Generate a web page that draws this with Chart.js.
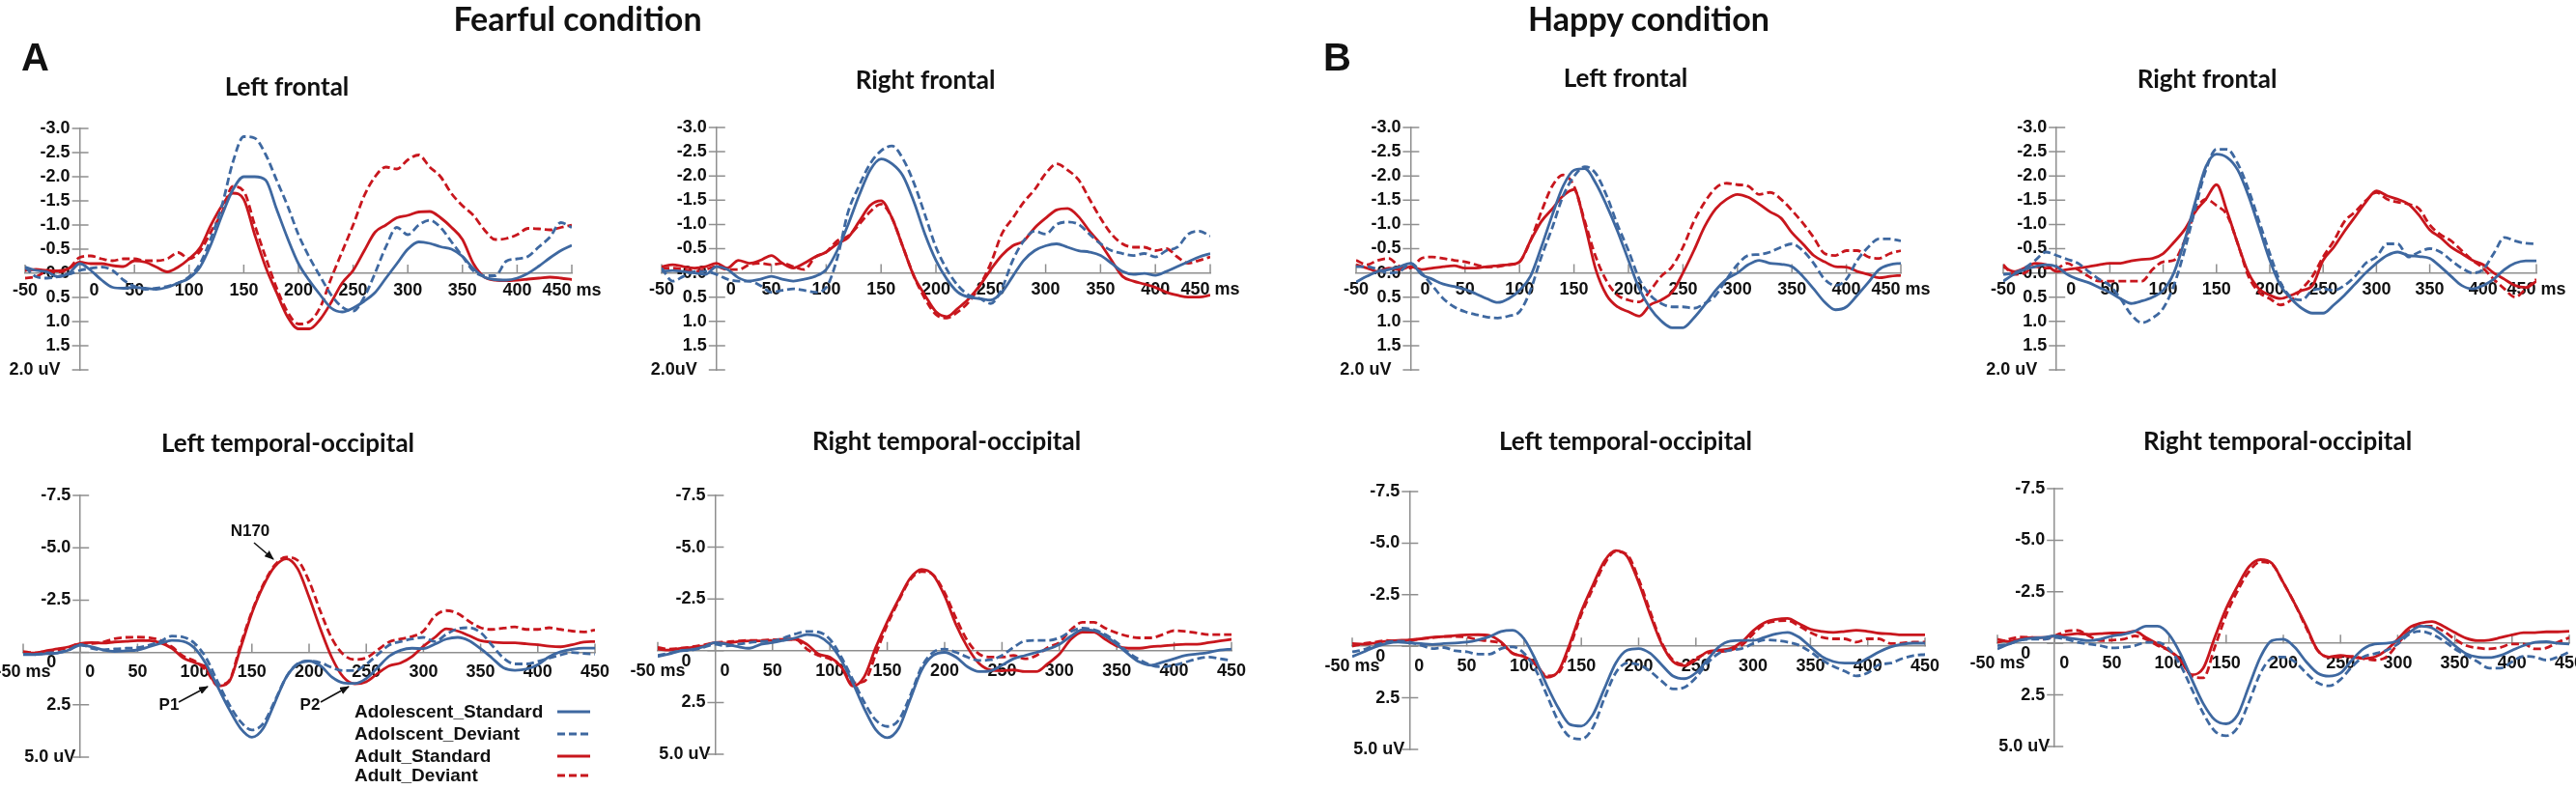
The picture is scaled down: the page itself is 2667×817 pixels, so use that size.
<!DOCTYPE html>
<html>
<head>
<meta charset="utf-8">
<script src="https://cdn.jsdelivr.net/npm/chart.js@4.4.0/dist/chart.umd.min.js"></script>
<style>
  html, body { margin: 0; padding: 0; background: #fff; }
  body { position: relative; width: 2667px; height: 817px; overflow: hidden; }
  canvas { position: absolute; }
  #overlay { position: absolute; left: 0; top: 0; pointer-events: none; }
  .ttl { font-family: Lato, "Open Sans", sans-serif; font-weight: 700; fill: #111; }
  .lbl { font-family: "Liberation Sans", Arial, sans-serif; font-weight: 700; fill: #111; }
</style>
</head>
<body>
<svg id="overlay" width="2667" height="817">
  <defs>
    <marker id="ah" markerWidth="10" markerHeight="8" refX="9" refY="4" orient="auto" markerUnits="userSpaceOnUse">
      <path d="M0,0 L10,4 L0,8 z" fill="#111"/>
    </marker>
  </defs>
  <text class="lbl" x="22" y="73" font-size="40">A</text>
  <text class="lbl" x="1370" y="73" font-size="40">B</text>
  <text class="ttl" x="598" y="32" font-size="34" text-anchor="middle">Fearful condition</text>
  <text class="ttl" x="1707" y="32" font-size="34" text-anchor="middle">Happy condition</text>

  <text class="ttl" x="297" y="99" font-size="26" text-anchor="middle">Left frontal</text>
  <text class="ttl" x="958" y="92" font-size="26" text-anchor="middle">Right frontal</text>
  <text class="ttl" x="1683" y="90" font-size="26" text-anchor="middle">Left frontal</text>
  <text class="ttl" x="2285" y="91" font-size="26" text-anchor="middle">Right frontal</text>

  <text class="ttl" x="298" y="468" font-size="26" text-anchor="middle">Left temporal-occipital</text>
  <text class="ttl" x="980" y="466" font-size="26" text-anchor="middle">Right temporal-occipital</text>
  <text class="ttl" x="1683" y="466" font-size="26" text-anchor="middle">Left temporal-occipital</text>
  <text class="ttl" x="2358" y="466" font-size="26" text-anchor="middle">Right temporal-occipital</text>

  <!-- component labels -->
  <text class="lbl" x="259" y="555" font-size="17" text-anchor="middle">N170</text>
  <line x1="263" y1="562" x2="283" y2="579" stroke="#111" stroke-width="1.5" marker-end="url(#ah)"/>
  <text class="lbl" x="175" y="735" font-size="17" text-anchor="middle">P1</text>
  <line x1="185" y1="727" x2="215" y2="711" stroke="#111" stroke-width="1.5" marker-end="url(#ah)"/>
  <text class="lbl" x="321" y="735" font-size="17" text-anchor="middle">P2</text>
  <line x1="332" y1="727" x2="361" y2="711" stroke="#111" stroke-width="1.5" marker-end="url(#ah)"/>

  <!-- legend -->
  <text class="lbl" x="367" y="743" font-size="19">Adolescent_Standard</text>
  <text class="lbl" x="367" y="766" font-size="19">Adolscent_Deviant</text>
  <text class="lbl" x="367" y="789" font-size="19">Adult_Standard</text>
  <text class="lbl" x="367" y="809" font-size="19">Adult_Deviant</text>
  <line x1="577" y1="737" x2="611" y2="737" stroke="#3E68A0" stroke-width="3"/>
  <line x1="577" y1="760" x2="611" y2="760" stroke="#3E68A0" stroke-width="3" stroke-dasharray="8 4"/>
  <line x1="577" y1="783" x2="611" y2="783" stroke="#C8161D" stroke-width="3"/>
  <line x1="577" y1="803" x2="611" y2="803" stroke="#C8161D" stroke-width="3" stroke-dasharray="8 4"/>
</svg>

<script>
// time points (ms)
const times = [-50,-40,-30,-20,-10,0,10,20,30,40,50,60,70,80,90,100,110,120,130,140,150,160,170,180,190,200,
  210,220,230,240,250,260,270,280,290,300,310,320,330,340,350,360,370,380,390,400,410,420,430,440,450];

const seriesNames = ['Adolescent_Standard', 'Adolscent_Deviant', 'Adult_Standard', 'Adult_Deviant'];

// --- Fearful, left frontal (uV) ---
const fearLF_adoStd = [-0.13,-0.06,-0.03,0.07,0, -0.2,-0.06,0.14,0.29,0.31,0.29,0.31,0.33,0.29,0.2,
  0.1,-0.13,-0.6,-1.2,-1.73,-2.0,-2.0,-1.93,-1.33,-0.73, -0.2,0.15,0.45,0.72,0.8,0.72,0.58,0.4,0.1,-0.2,
  -0.5,-0.65,-0.62,-0.55,-0.5,-0.35,-0.1,0.08,0.13,0.14, 0.1,0,-0.15,-0.32,-0.47,-0.58];
const fearLF_adoDev = [-0.13,0.07,0.1,0.07,0.02, -0.06,-0.1,-0.13,-0.06,0.14,0.27,0.33,0.31,0.27,0.2,
  0.07,-0.2,-0.73,-1.4,-2.3,-2.83,-2.8,-2.46,-1.93,-1.4, -0.8,-0.33,0.07,0.45,0.7,0.78,0.5,0,-0.55,-0.95,
  -0.8,-1.0,-1.1,-0.95,-0.65,-0.35,-0.05,0.05,0.05,-0.25, -0.3,-0.35,-0.55,-0.75,-1.05,-0.95];
const fearLF_adultStd = [-0.06,-0.08,-0.06,-0.05,-0.1, -0.23,-0.2,-0.2,-0.16,-0.14,-0.26,-0.23,-0.13,-0.03,-0.13,
  -0.3,-0.53,-1.0,-1.4,-1.66,-1.53,-0.8,-0.13,0.4,0.9, 1.15,1.15,0.95,0.6,0.2,-0.06,-0.46,-0.85,-1.0,-1.15,
  -1.2,-1.27,-1.28,-1.15,-0.95,-0.7,-0.2,0.08,0.14,0.15, 0.14,0.12,0.1,0.08,0.1,0.13];
const fearLF_adultDev = [0.1,0.07,-0.03,-0.03,-0.1, -0.33,-0.36,-0.3,-0.26,-0.3,-0.3,-0.26,-0.26,-0.3,-0.43,
  -0.3,-0.46,-0.86,-1.26,-1.8,-1.7,-1.0,-0.33,0.3,0.8, 1.05,1.0,0.7,0.1,-0.45,-1.0,-1.6,-2.0,-2.2,-2.16,
  -2.35,-2.45,-2.2,-2.0,-1.65,-1.4,-1.2,-0.9,-0.7,-0.72, -0.8,-0.93,-0.92,-0.9,-0.95,-1.0];

// --- Fearful, right frontal ---
const fearRF_adoStd = [-0.03,-0.05,-0.03,0,0.03, -0.13,-0.07,0.1,0.17,0.13,0.07,0.13,0.17,0.13,0.07,
  -0.07,-0.46,-1.0,-1.6,-2.12,-2.35,-2.25,-2.0,-1.46,-0.8, -0.26,0.13,0.4,0.5,0.53,0.56,0.4,0.07,-0.26,-0.46,
  -0.56,-0.6,-0.53,-0.46,-0.43,-0.36,-0.2,-0.03,0.03,0.01, 0.05,-0.03,-0.13,-0.23,-0.33,-0.4];
const fearRF_adoDev = [-0.1,0.17,0.07,-0.03,-0.03, 0.03,0.13,0.17,0.17,0.26,0.4,0.36,0.33,0.36,0.4,
  0.3,-0.3,-1.26,-1.8,-2.25,-2.52,-2.62,-2.35,-1.85,-1.2, -0.53,-0.07,0.26,0.46,0.53,0.63,0.33,-0.26,-0.66,-0.86,
  -0.8,-1.0,-1.05,-1.0,-0.8,-0.6,-0.46,-0.4,-0.36,-0.4, -0.33,-0.46,-0.53,-0.8,-0.86,-0.76];
const fearRF_adultStd = [-0.13,-0.17,-0.13,-0.1,-0.13, -0.2,-0.1,-0.26,-0.2,-0.26,-0.36,-0.2,-0.1,-0.2,-0.33,
  -0.43,-0.6,-0.73,-1.06,-1.39,-1.49,-1.13,-0.53,0.07,0.46, 0.8,0.9,0.73,0.53,0.26,-0.07,-0.36,-0.56,-0.66,-0.93,
  -1.13,-1.3,-1.33,-1.16,-0.86,-0.6,-0.26,0.07,0.17,0.23, 0.3,0.4,0.46,0.5,0.5,0.46];
const fearRF_adultDev = [-0.1,-0.1,-0.07,-0.03,-0.07, -0.13,-0.07,-0.07,-0.17,-0.2,-0.17,-0.2,-0.13,-0.07,-0.33,
  -0.43,-0.66,-0.76,-1.0,-1.26,-1.42,-1.13,-0.53,0.07,0.53, 0.86,0.93,0.8,0.6,0.26,-0.2,-0.8,-1.13,-1.46,-1.72,
  -2.05,-2.25,-2.12,-1.92,-1.52,-1.13,-0.8,-0.6,-0.53,-0.53, -0.46,-0.5,-0.33,-0.2,-0.26,-0.33];

// --- Fearful, left temporal-occipital ---
const fearLT_adoStd = [0.1,0.1,0.06,0.03,-0.12, -0.35,-0.27,-0.12,-0.05,-0.08,-0.12,-0.27,-0.43,-0.58,-0.53,
  -0.2,0.56,1.63,2.7,3.62,4.05,3.62,2.4,1.18,0.56, 0.41,0.64,1.18,1.45,1.48,1.25,0.72,0.18,-0.1,-0.2,
  -0.18,-0.4,-0.64,-0.72,-0.56,-0.18,0.27,0.73,0.85,0.8, 0.58,0.2,-0.03,-0.15,-0.21,-0.21];
const fearLT_adoDev = [0.08,0.1,0.03,0,-0.12, -0.38,-0.2,-0.12,-0.17,-0.2,-0.23,-0.35,-0.53,-0.78,-0.73,
  -0.43,0.26,1.4,2.47,3.3,3.7,3.39,2.32,1.18,0.53, 0.41,0.49,0.72,0.87,0.87,0.56,0.1,-0.35,-0.52,-0.64,
  -0.72,-0.52,-0.87,-1.13,-1.18,-0.95,-0.34,0.27,0.55,0.55, 0.43,0.27,0.12,0,0.05,0.08];
const fearLT_adultStd = [0,0.03,-0.08,-0.17,-0.27, -0.43,-0.47,-0.45,-0.5,-0.53,-0.56,-0.56,-0.46,-0.2,0.26,
  0.49,0.72,1.6,1.4,-0.2,-1.88,-3.18,-4.1,-4.47,-4.0, -2.64,-1.11,0.26,1.18,1.5,1.4,1.0,0.64,0.5,0.2,
  -0.3,-0.72,-1.13,-1.02,-0.8,-0.56,-0.49,-0.46,-0.46,-0.41, -0.37,-0.3,-0.27,-0.37,-0.49,-0.52];
const fearLT_adultDev = [-0.05,0.02,-0.05,-0.12,-0.23, -0.43,-0.43,-0.5,-0.66,-0.72,-0.73,-0.7,-0.58,-0.27,0.18,
  0.41,0.87,1.55,1.35,-0.35,-1.95,-3.25,-4.17,-4.55,-4.4, -3.4,-1.95,-0.66,0.1,0.34,0.26,-0.12,-0.5,-0.64,-0.76,
  -1.02,-1.74,-2.0,-1.86,-1.48,-1.18,-1.1,-1.16,-1.22,-1.1, -1.1,-1.18,-1.1,-1.02,-0.98,-1.07];

// --- Fearful, right temporal-occipital ---
const fearRT_adoStd = [0.28,0.16,0,-0.05,-0.19, -0.39,-0.31,-0.19,-0.12,-0.31,-0.39,-0.5,-0.62,-0.78,-0.7,
  -0.31,0.47,1.56,2.8,3.82,4.2,3.74,2.34,0.93,0.23, 0.08,0.31,0.78,1.01,0.97,0.7,0.39,0.23,0.08,-0.08,
  -0.31,-0.7,-1.01,-0.97,-0.7,-0.31,0.16,0.55,0.7,0.55, 0.39,0.23,0.16,0.08,-0.03,-0.08];
const fearRT_adoDev = [0.23,0.12,0,-0.03,-0.16, -0.31,-0.23,-0.31,-0.39,-0.44,-0.47,-0.62,-0.81,-0.93,-0.9,
  -0.55,0.31,1.4,2.49,3.35,3.66,3.35,2.18,0.78,0.08, -0.08,0.08,0.31,0.47,0.44,0.23,-0.16,-0.47,-0.5,-0.5,
  -0.62,-0.93,-1.09,-1.01,-0.78,-0.39,0.08,0.44,0.7,0.78, 0.7,0.55,0.39,0.31,0.39,0.47];
const fearRT_adultStd = [-0.08,-0.03,-0.11,-0.16,-0.23, -0.39,-0.36,-0.44,-0.47,-0.47,-0.5,-0.55,-0.55,-0.31,0.16,
  0.31,0.78,1.71,1.25,-0.16,-1.4,-2.49,-3.5,-3.93,-3.66, -2.65,-1.25,-0.16,0.62,0.93,0.97,0.93,1.01,1.01,0.62,
  0.16,-0.55,-0.9,-0.9,-0.55,-0.23,-0.12,-0.12,-0.19,-0.23, -0.28,-0.31,-0.31,-0.39,-0.47,-0.55];
const fearRT_adultDev = [-0.16,-0.08,-0.12,-0.19,-0.28, -0.39,-0.42,-0.47,-0.5,-0.5,-0.53,-0.55,-0.55,-0.08,0.23,
  0.39,0.78,1.56,1.48,0.16,-1.25,-2.41,-3.43,-3.82,-3.66, -2.8,-1.56,-0.47,0.16,0.31,0.31,0.23,0.39,0.23,-0.16,
  -0.39,-1.01,-1.37,-1.37,-1.09,-0.86,-0.7,-0.62,-0.62,-0.78, -0.97,-0.93,-0.86,-0.78,-0.78,-0.78];

// --- Happy, left frontal ---
const happyLF_adoStd = [0.19,0.07,-0.03,-0.07,-0.13, -0.2,0.03,0.13,0.23,0.28,0.34,0.43,0.53,0.61,0.53,
  0.36,0.07,-0.53,-1.19,-1.79,-2.12,-2.15,-1.85,-1.39,-0.86, -0.26,0.33,0.73,0.99,1.13,1.13,0.93,0.66,0.36,0.13,
  0,-0.17,-0.26,-0.2,-0.18,-0.13,0.07,0.33,0.6,0.76, 0.7,0.46,0.2,-0.07,-0.17,-0.2];
const happyLF_adoDev = [-0.13,-0.13,-0.07,0,-0.03, -0.2,0,0.26,0.53,0.7,0.8,0.86,0.91,0.93,0.89,
  0.8,0.36,-0.33,-0.93,-1.59,-1.99,-2.19,-2.05,-1.59,-0.99, -0.46,0.13,0.46,0.63,0.7,0.7,0.73,0.63,0.46,0.13,
  -0.17,-0.36,-0.38,-0.43,-0.53,-0.6,-0.46,-0.2,0.13,0.26, 0.13,-0.26,-0.53,-0.7,-0.7,-0.66];
const happyLF_adultStd = [-0.17,-0.1,-0.03,-0.1,-0.07, -0.13,-0.07,-0.1,-0.13,-0.15,-0.1,-0.1,-0.13,-0.15,-0.17,
  -0.23,-0.66,-1.06,-1.32,-1.59,-1.72,-0.99,-0.07,0.46,0.7, 0.8,0.89,0.66,0.56,0.4,0,-0.46,-0.96,-1.32,-1.52,
  -1.62,-1.56,-1.42,-1.26,-1.13,-0.83,-0.6,-0.36,-0.23,-0.13, -0.12,-0.03,0.03,0.1,0.07,0.05];
const happyLF_adultDev = [-0.26,-0.17,-0.26,-0.3,-0.13, -0.1,-0.3,-0.33,-0.3,-0.26,-0.23,-0.17,-0.12,-0.13,-0.17,
  -0.23,-0.66,-1.26,-1.79,-2.02,-1.79,-1.06,-0.33,0.17,0.46, 0.56,0.6,0.36,0.07,-0.13,-0.53,-1.06,-1.46,-1.75,-1.85,
  -1.82,-1.79,-1.62,-1.66,-1.52,-1.29,-1.03,-0.73,-0.4,-0.36, -0.46,-0.46,-0.33,-0.3,-0.4,-0.46];

// --- Happy, right frontal ---
const happyRF_adoStd = [0.17,0.03,-0.07,-0.13,-0.17, -0.13,0.03,0.13,0.2,0.3,0.4,0.53,0.63,0.58,0.5,
  0.36,0,-0.66,-1.46,-2.19,-2.45,-2.38,-2.12,-1.59,-0.93, -0.26,0.26,0.53,0.73,0.83,0.83,0.66,0.46,0.23,0,
  -0.2,-0.36,-0.43,-0.36,-0.34,-0.3,-0.13,0.07,0.26,0.33, 0.26,0.13,-0.07,-0.2,-0.25,-0.25];
const happyRF_adoDev = [0.03,0,-0.1,-0.26,-0.43, -0.36,-0.28,-0.2,-0.03,0.13,0.26,0.53,0.86,1.03,0.93,
  0.73,0.26,-0.46,-1.32,-2.12,-2.55,-2.55,-2.25,-1.72,-1.06, -0.4,0.2,0.5,0.56,0.36,0.33,0.36,0.26,0.07,-0.2,
  -0.33,-0.6,-0.6,-0.33,-0.43,-0.5,-0.43,-0.26,-0.1,0, -0.07,-0.4,-0.73,-0.66,-0.61,-0.6];
const happyRF_adultStd = [-0.13,-0.03,-0.1,-0.2,-0.17, -0.03,-0.07,-0.1,-0.13,-0.17,-0.2,-0.2,-0.25,-0.28,-0.3,
  -0.4,-0.63,-0.89,-1.26,-1.52,-1.82,-1.26,-0.6,0,0.33, 0.46,0.53,0.46,0.36,0.26,-0.26,-0.53,-0.86,-1.16,-1.46,
  -1.69,-1.59,-1.52,-1.42,-1.19,-0.89,-0.73,-0.53,-0.4,-0.26, -0.17,0,0.13,0.26,0.3,0.17];
const happyRF_adultDev = [-0.17,0.03,0,-0.13,-0.1, -0.1,-0.2,-0.07,0.07,0.17,0.17,0.17,0.17,0.17,-0.07,
  -0.23,-0.26,-0.66,-1.26,-1.52,-1.39,-1.19,-0.6,0.07,0.4, 0.53,0.66,0.56,0.33,0.07,-0.33,-0.66,-1.06,-1.26,-1.49,
  -1.66,-1.52,-1.46,-1.42,-1.32,-0.99,-0.79,-0.66,-0.46,-0.26, -0.1,0.13,0.33,0.5,0.33,0.13];

// --- Happy, left temporal-occipital ---
const happyLT_adoStd = [0.5,0.27,0.03,-0.13,-0.2, -0.16,-0.13,-0.09,-0.13,-0.16,-0.2,-0.31,-0.47,-0.72,-0.78,
  -0.36,0.66,1.91,3.0,3.79,3.87,3.32,2.07,0.82,0.19, 0.11,0.34,0.89,1.44,1.57,1.29,0.66,0.03,-0.25,-0.28,
  -0.28,-0.44,-0.6,-0.67,-0.44,0.03,0.5,0.74,0.82,0.82, 0.58,0.27,0.03,-0.1,-0.15,-0.15];
const happyLT_adoDev = [0.27,0.16,-0.05,-0.2,-0.25, -0.2,-0.05,0.11,0.06,0.22,0.27,0.38,0.38,0.11,0.03,
  0.34,1.13,2.38,3.64,4.39,4.5,3.95,2.54,1.29,0.82, 0.89,1.21,1.68,2.07,1.99,1.52,0.82,0.34,0.19,0.11,
  -0.13,-0.31,-0.28,-0.2,-0.05,0.27,0.66,0.97,1.21,1.44, 1.29,0.89,0.82,0.6,0.45,0.4];
const happyLT_adultStd = [-0.13,-0.1,-0.16,-0.25,-0.28, -0.31,-0.36,-0.44,-0.47,-0.52,-0.55,-0.56,-0.52,-0.2,0.34,
  0.5,0.82,1.5,1.21,-0.13,-1.69,-2.95,-4.12,-4.64,-4.36, -3.1,-1.54,-0.13,0.74,0.94,0.66,0.27,0.19,0.11,-0.2,
  -0.75,-1.14,-1.3,-1.35,-1.1,-0.83,-0.72,-0.67,-0.72,-0.78, -0.72,-0.63,-0.6,-0.55,-0.55,-0.55];
const happyLT_adultDev = [0,-0.13,-0.2,-0.28,-0.25, -0.28,-0.36,-0.41,-0.47,-0.47,-0.44,-0.31,-0.25,-0.13,0.34,
  0.5,0.89,1.44,1.29,0.03,-1.54,-2.79,-3.97,-4.59,-4.44, -3.26,-1.69,-0.2,0.66,0.89,0.58,0.34,0.27,0.19,-0.05,
  -0.6,-1.07,-1.22,-1.25,-0.99,-0.67,-0.44,-0.36,-0.36,-0.2, -0.36,-0.36,-0.13,-0.15,-0.2,-0.2];

// --- Happy, right temporal-occipital ---
const happyRT_adoStd = [0.27,0.03,-0.16,-0.25,-0.28, -0.36,-0.28,-0.2,-0.13,-0.2,-0.36,-0.44,-0.59,-0.83,-0.83,
  -0.44,0.5,1.75,2.92,3.7,3.9,3.47,2.06,0.66,-0.13, -0.2,0.19,0.89,1.44,1.59,1.44,0.81,0.27,0.03,0,
  -0.13,-0.52,-0.83,-0.75,-0.36,0.11,0.5,0.66,0.69,0.58, 0.34,0.11,-0.05,-0.08,0,0.03];
const happyRT_adoDev = [0.11,0.03,-0.16,-0.2,-0.2, -0.28,-0.2,-0.05,0.03,0.11,0.22,0.19,0.11,-0.05,-0.05,
  0.27,1.05,2.22,3.39,4.25,4.48,4.09,2.84,1.44,0.73, 0.66,0.89,1.44,1.91,2.06,1.75,1.13,0.66,0.5,0.34,
  0.03,-0.44,-0.59,-0.44,-0.13,0.27,0.58,0.89,1.2,1.2, 0.89,0.63,0.66,0.81,0.66,0.42];
const happyRT_adultStd = [-0.2,-0.09,-0.2,-0.28,-0.28, -0.36,-0.41,-0.47,-0.44,-0.47,-0.5,-0.5,-0.59,-0.28,0.03,
  0.34,0.81,1.52,1.2,-0.28,-1.69,-2.78,-3.72,-4.06,-3.88, -2.94,-1.92,-0.83,0.34,0.66,0.58,0.66,0.73,0.66,0.34,
  -0.2,-0.75,-0.98,-1.06,-0.83,-0.52,-0.25,-0.13,-0.16,-0.28, -0.41,-0.52,-0.52,-0.56,-0.56,-0.59];
const happyRT_adultDev = [-0.05,-0.2,-0.31,-0.28,-0.2, -0.36,-0.59,-0.63,-0.36,-0.13,-0.16,-0.2,-0.36,-0.2,0.11,
  0.34,0.81,1.59,1.67,0.19,-1.38,-2.55,-3.48,-3.95,-3.84, -2.94,-1.92,-0.75,0.34,0.66,0.66,0.63,0.73,0.81,0.66,
  0.03,-0.59,-0.83,-0.83,-0.59,-0.2,0.11,0.22,0.27,0.19, 0.03,0.03,0.27,0.22,-0.05,-0.28];

// --- styling ---
const BLUE = '#3E68A0';
const RED = '#C8161D';
const lineColors = [BLUE, BLUE, RED, RED];
const lineDash = [[], [8, 4], [], [8, 4]];
const AXIS_GREY = '#8f8f8f';
const PAD = { left: 84, right: 74, top: 16, bottom: 42 };

Chart.defaults.font.family = '"Liberation Sans", Arial, sans-serif';
Chart.defaults.font.weight = 'bold';
Chart.defaults.font.size = 18;
Chart.defaults.color = '#111';

// panel boxes = pixel extent of the plotting area (-50..450 ms, y min..max)
const panels = [
  { box: { left: 26, right: 592, top: 133, bottom: 383 }, kind: 'frontal', uv: '2.0 uV',
    series: [fearLF_adoStd, fearLF_adoDev, fearLF_adultStd, fearLF_adultDev] },
  { box: { left: 685, right: 1253, top: 132, bottom: 383 }, kind: 'frontal', uv: '2.0uV',
    series: [fearRF_adoStd, fearRF_adoDev, fearRF_adultStd, fearRF_adultDev] },
  { box: { left: 24, right: 616, top: 513, bottom: 784 }, kind: 'temporal',
    series: [fearLT_adoStd, fearLT_adoDev, fearLT_adultStd, fearLT_adultDev] },
  { box: { left: 681, right: 1275, top: 513, bottom: 781 }, kind: 'temporal',
    series: [fearRT_adoStd, fearRT_adoDev, fearRT_adultStd, fearRT_adultDev] },
  { box: { left: 1404, right: 1968, top: 132, bottom: 383 }, kind: 'frontal', uv: '2.0 uV',
    series: [happyLF_adoStd, happyLF_adoDev, happyLF_adultStd, happyLF_adultDev] },
  { box: { left: 2074, right: 2626, top: 132, bottom: 383 }, kind: 'frontal', uv: '2.0 uV',
    series: [happyRF_adoStd, happyRF_adoDev, happyRF_adultStd, happyRF_adultDev] },
  { box: { left: 1400, right: 1993, top: 509, bottom: 776 }, kind: 'temporal',
    series: [happyLT_adoStd, happyLT_adoDev, happyLT_adultStd, happyLT_adultDev] },
  { box: { left: 2068, right: 2660, top: 506, bottom: 773 }, kind: 'temporal',
    series: [happyRT_adoStd, happyRT_adoDev, happyRT_adultStd, happyRT_adultDev] }
];

// small tick marks crossing the axes (drawn under the curves)
const crossTicks = {
  id: 'crossTicks',
  beforeDatasetsDraw(chart) {
    const { ctx, scales: { x, y } } = chart;
    const x0 = x.getPixelForValue(0);
    const y0 = y.getPixelForValue(0);
    ctx.save();
    ctx.strokeStyle = AXIS_GREY;
    ctx.lineWidth = 1.5;
    ctx.beginPath();
    x.ticks.forEach(t => {
      const px = x.getPixelForValue(t.value);
      ctx.moveTo(px, y0);
      ctx.lineTo(px, y0 - 9);
    });
    y.ticks.forEach(t => {
      const py = y.getPixelForValue(t.value);
      ctx.moveTo(x0 - 8, py);
      ctx.lineTo(x0 + 9, py);
    });
    ctx.stroke();
    ctx.restore();
  }
};

const overlay = document.getElementById('overlay');

panels.forEach(p => {
  const frontal = p.kind === 'frontal';
  const cv = document.createElement('canvas');
  const w = p.box.right - p.box.left + PAD.left + PAD.right;
  const h = p.box.bottom - p.box.top + PAD.top + PAD.bottom;
  cv.width = w;
  cv.height = h;
  cv.style.left = (p.box.left - PAD.left) + 'px';
  cv.style.top = (p.box.top - PAD.top) + 'px';
  document.body.insertBefore(cv, overlay);

  new Chart(cv, {
    type: 'line',
    data: {
      datasets: p.series.map((vals, i) => ({
        label: seriesNames[i],
        data: vals.map((v, j) => ({ x: times[j], y: v })),
        borderColor: lineColors[i],
        borderDash: lineDash[i],
        borderWidth: 2.8,
        pointRadius: 0,
        fill: false,
        cubicInterpolationMode: 'monotone'
      }))
    },
    options: {
      responsive: false,
      animation: false,
      events: [],
      layout: { padding: PAD },
      plugins: { legend: { display: false }, tooltip: { enabled: false } },
      scales: {
        x: {
          type: 'linear', min: -50, max: 450,
          position: { y: 0 },
          grid: { display: false, drawTicks: false },
          border: { color: AXIS_GREY, width: 1.5 },
          ticks: {
            stepSize: 50, autoSkip: false, maxRotation: 0,
            padding: frontal ? 7 : 10,
            callback: v => {
              if (frontal) {
                if (v === 450) return '450 ms';
                if (v === 0) return '      0';
              } else {
                if (v === -50) return '-50 ms';
                if (v === 0) return '    0';
              }
              return String(v);
            }
          }
        },
        y: {
          type: 'linear', reverse: true,
          min: frontal ? -3 : -7.5, max: frontal ? 2 : 5,
          position: { x: 0 },
          grid: { display: false, drawTicks: false },
          border: { color: AXIS_GREY, width: 1.5 },
          ticks: {
            stepSize: frontal ? 0.5 : 2.5, autoSkip: false,
            callback: v => {
              if (frontal) {
                if (v === 2) return p.uv + '    ';
                if (v === 0) return '-0.0  ';
                return v.toFixed(1) + '  ';
              }
              if (v === 5) return '5.0 uV ';
              if (v === 0) return ['', '0     '];
              return v.toFixed(1) + '  ';
            }
          }
        }
      }
    },
    plugins: [crossTicks]
  });
});
</script>
</body>
</html>
